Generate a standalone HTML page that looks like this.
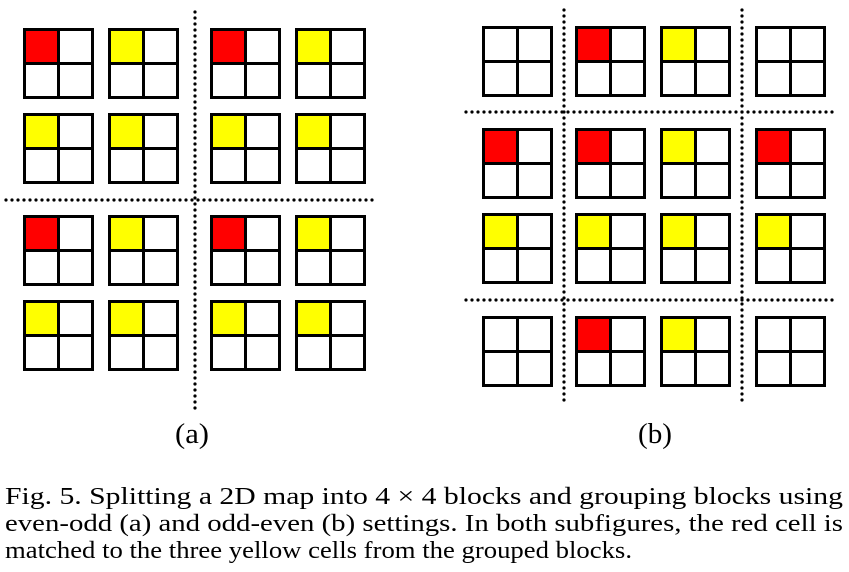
<!DOCTYPE html>
<html><head><meta charset="utf-8"><style>
html,body{margin:0;padding:0;background:#fff;}
svg{display:block;}
</style></head><body>
<svg id="fig" width="849" height="572" viewBox="0 0 849 572" xmlns="http://www.w3.org/2000/svg">
<g id="panels"></g>
<g font-family="'Liberation Serif', 'Times New Roman', serif" fill="#000">
<text x="192" y="443" font-size="28" text-anchor="middle" textLength="34" lengthAdjust="spacingAndGlyphs">(a)</text>
<text x="655" y="443" font-size="28" text-anchor="middle" textLength="34" lengthAdjust="spacingAndGlyphs">(b)</text>
<g font-size="24">
<text x="5" y="504" textLength="838" lengthAdjust="spacingAndGlyphs">Fig. 5.  Splitting a 2D map into 4 × 4 blocks and grouping blocks using</text>
<text x="5" y="531" textLength="838" lengthAdjust="spacingAndGlyphs">even-odd (a) and odd-even (b) settings. In both subfigures, the red cell is</text>
<text x="5" y="558" textLength="627" lengthAdjust="spacingAndGlyphs">matched to the three yellow cells from the grouped blocks.</text>
</g>
</g>
</svg>
<script>
// block highlight colours: R=red top-left cell, Y=yellow, W=none
const patternA = [["R","Y","R","Y"],["Y","Y","Y","Y"],["R","Y","R","Y"],["Y","Y","Y","Y"]];
const patternB = [["W","R","Y","W"],["R","R","Y","R"],["Y","Y","Y","Y"],["W","R","Y","W"]];
const NS="http://www.w3.org/2000/svg";
const g=document.getElementById('panels');
const colors={R:"#ff0000",Y:"#ffff00",W:"#ffffff"};
function mk(tag,attrs){const e=document.createElementNS(NS,tag);for(const k in attrs)e.setAttribute(k,attrs[k]);return e;}
function drawPanel(pattern,xs,ys,name){
  const pg=mk('g',{});
  
  
  pattern.forEach((row,r)=>row.forEach((c,ci)=>{
    const x=xs[ci],y=ys[r],s=71,h=s/2;
    const bg=mk('g',{});
    
    
    bg.appendChild(mk('rect',{x:x+1.5,y:y+1.5,width:s-3,height:s-3,fill:"#fff",stroke:"none"}));
    bg.appendChild(mk('rect',{x:x+1.5,y:y+1.5,width:h-1.5,height:h-1.5,fill:colors[c]}));
    bg.appendChild(mk('rect',{x:x+1.5,y:y+1.5,width:s-3,height:s-3,fill:"none",stroke:"#000","stroke-width":3}));
    bg.appendChild(mk('line',{x1:x+h,y1:y,x2:x+h,y2:y+s,stroke:"#000","stroke-width":3}));
    bg.appendChild(mk('line',{x1:x,y1:y+h,x2:x+s,y2:y+h,stroke:"#000","stroke-width":3}));
    pg.appendChild(bg);
  }));
  g.appendChild(pg);
}
function dots(x1,y1,x2,y2){
  const l=mk('line',{x1,y1,x2,y2,stroke:"#000","stroke-width":3.2,"stroke-linecap":"round","stroke-dasharray":"0 6"});
  
  
  g.appendChild(l);
}
drawPanel(patternA,[23,108,210,295],[28,113,215,300],'panel-a');
drawPanel(patternB,[482,575,660,755],[26,128,213,316],'panel-b');
dots(195,12,195,410); dots(6,200,378,200);
dots(564,10,564,405); dots(742,10,742,405);
dots(466,112,838,112); dots(466,300,838,300);
</script>
</body></html>
